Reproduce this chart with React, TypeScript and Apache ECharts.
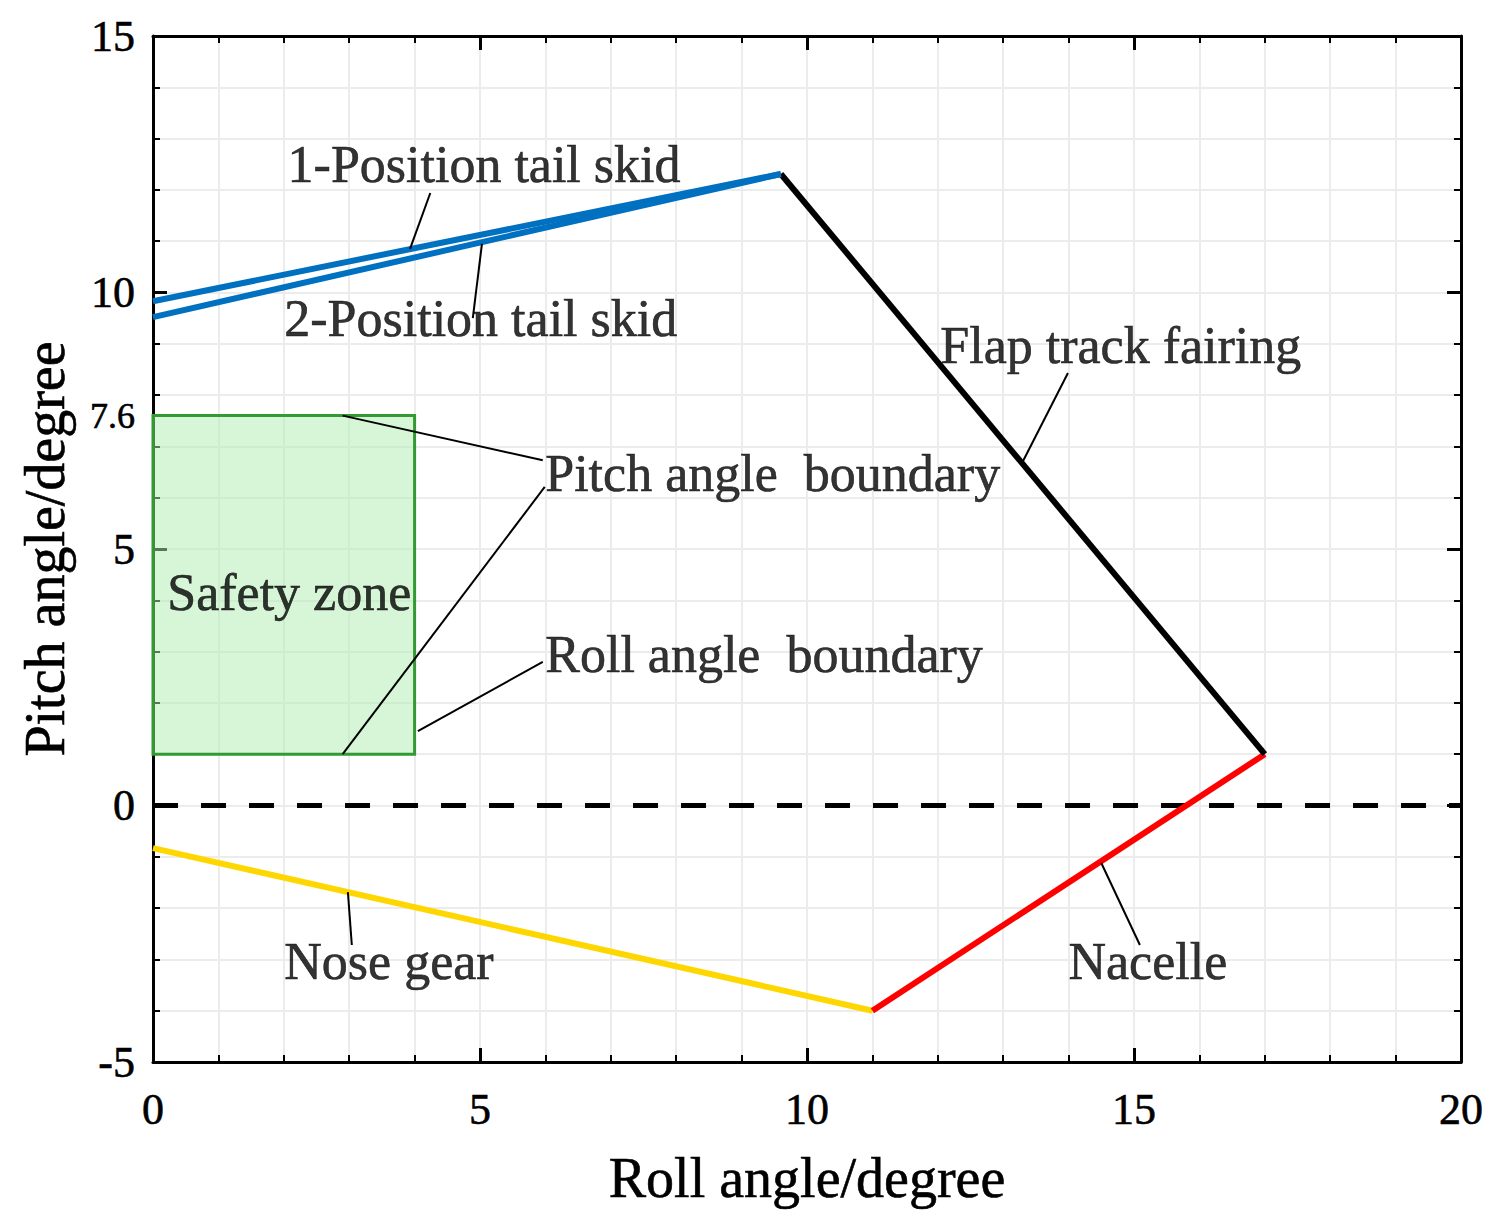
import React, { useEffect, useRef } from "react";
import * as echarts from "echarts";

const FONT = "'Liberation Serif', 'Times New Roman', serif";

const xRange = [0, 20];
const yRange = [-5, 15];
const yLabelValues = [-5, 0, 5, 7.6, 10, 15];
const xLabelValues = [0, 5, 10, 15, 20];

const tailSkid1 = [[0, 9.83], [9.6, 12.31]];
const tailSkid2 = [[0, 9.52], [9.6, 12.31]];
const flapTrack = [[9.6, 12.31], [17, 1.0]];
const nacelle = [[11, -4], [17, 1.0]];
const noseGear = [[0, -0.83], [11, -4]];
const zeroLine = [[0, 0], [20, 0]];

const safetyX = [0, 4];
const safetyY = [1, 7.6];

const leaders = [
  [[4.24, 11.94], [3.93, 10.85]],
  [[4.89, 9.5], [5.03, 10.95]],
  [[13.99, 8.43], [13.29, 6.68]],
  [[5.96, 6.73], [2.9, 7.6]],
  [[5.99, 6.21], [2.9, 1.0]],
  [[5.96, 2.8], [4.05, 1.45]],
  [[3.04, -2.72], [2.98, -1.69]],
  [[15.09, -2.72], [14.5, -1.12]],
];

const annotations = [
  { text: "1-Position tail skid", x: 2.05, y: 12.49 },
  { text: "2-Position tail skid", x: 2.0, y: 9.5 },
  { text: "Flap track fairing", x: 12.03, y: 8.96 },
  { text: "Pitch angle  boundary", x: 5.99, y: 6.48 },
  { text: "Safety zone", x: 0.21, y: 4.16 },
  { text: "Roll angle  boundary", x: 5.99, y: 2.95 },
  { text: "Nose gear", x: 2.0, y: -3.05 },
  { text: "Nacelle", x: 13.99, y: -3.05 },
];

const gridColor = "#ececec";

function lineSeries(name: string, data: number[][], color: string, width = 6, type: any = "solid") {
  return {
    name,
    type: "line",
    data,
    symbol: "none",
    lineStyle: { color, width, type },
    z: 5,
  };
}

export default function App() {
  const ref = useRef<HTMLDivElement>(null);
  useEffect(() => {
    if (!ref.current) return;
    const chart = echarts.init(ref.current, null, { renderer: "svg" });
    const commonAxis = {
      axisLine: { show: true, onZero: false, lineStyle: { color: "#000", width: 3 } },
      axisTick: { show: true, inside: true, length: 14, lineStyle: { color: "#000", width: 3 } },
      minorTick: { show: true, splitNumber: 5, length: 7, lineStyle: { color: "#000", width: 2 } },
    };
    const textBold = { textBorderColor: "#000", textBorderWidth: 0.6 };
    chart.setOption({
      animation: false,
      backgroundColor: "#fff",
      textStyle: { fontFamily: FONT },
      grid: { left: 145, top: 28, right: 29, bottom: 155, containLabel: false },
      xAxis: [
        {
          type: "value",
          min: xRange[0],
          max: xRange[1],
          interval: 5,
          position: "bottom",
          ...commonAxis,
          axisLabel: {
            customValues: xLabelValues,
            color: "#000",
            fontFamily: FONT,
            fontSize: 44,
            margin: 25,
            ...textBold,
          },
          splitLine: { show: true, lineStyle: { color: gridColor, width: 2 } },
          minorSplitLine: { show: true, lineStyle: { color: gridColor, width: 2 } },
          name: "Roll angle/degree",
          nameLocation: "middle",
          nameGap: 88,
          nameTextStyle: { color: "#000", fontFamily: FONT, fontSize: 56, ...textBold },
        },
        {
          type: "value",
          min: xRange[0],
          max: xRange[1],
          interval: 5,
          position: "top",
          ...commonAxis,
          axisLabel: { show: false },
          splitLine: { show: false },
        },
      ],
      yAxis: [
        {
          type: "value",
          min: yRange[0],
          max: yRange[1],
          interval: 5,
          position: "left",
          ...commonAxis,
          axisLabel: {
            customValues: yLabelValues,
            color: "#000",
            fontFamily: FONT,
            fontSize: 44,
            margin: 18,
            ...textBold,
            formatter: (v: number) => (v === 7.6 ? "{s|7.6}" : String(v)),
            rich: { s: { fontSize: 36, fontFamily: FONT, color: "#000", ...textBold } },
          },
          splitLine: { show: true, lineStyle: { color: gridColor, width: 2 } },
          minorSplitLine: { show: true, lineStyle: { color: gridColor, width: 2 } },
          name: "Pitch angle/degree",
          nameLocation: "middle",
          nameGap: 80,
          nameTextStyle: { color: "#000", fontFamily: FONT, fontSize: 56, ...textBold },
        },
        {
          type: "value",
          min: yRange[0],
          max: yRange[1],
          interval: 5,
          position: "right",
          ...commonAxis,
          axisLabel: { show: false },
          splitLine: { show: false },
        },
      ],
      series: [
        {
          type: "line",
          data: [],
          markArea: {
            silent: true,
            itemStyle: { color: "rgba(175,235,175,0.5)", borderColor: "#339933", borderWidth: 3 },
            data: [[{ xAxis: safetyX[0], yAxis: safetyY[0] }, { xAxis: safetyX[1], yAxis: safetyY[1] }]],
          },
        },
        lineSeries("zero", zeroLine, "#000", 5, [25, 23]),
        lineSeries("Nose gear", noseGear, "#FFD700"),
        lineSeries("Nacelle", nacelle, "#FF0000"),
        lineSeries("Flap track fairing", flapTrack, "#000"),
        lineSeries("1-Position tail skid", tailSkid1, "#0070C0"),
        lineSeries("2-Position tail skid", tailSkid2, "#0070C0"),
        {
          type: "lines",
          coordinateSystem: "cartesian2d",
          polyline: false,
          z: 6,
          lineStyle: { color: "#000", width: 2, opacity: 1, curveness: 0 },
          data: leaders.map((c) => ({ coords: c })),
        },
        {
          type: "scatter",
          symbolSize: 1,
          itemStyle: { color: "rgba(0,0,0,0)" },
          z: 7,
          data: annotations.map((a) => ({ value: [a.x, a.y], name: a.text })),
          label: {
            show: true,
            position: "right",
            distance: 0,
            formatter: (p: any) => p.name,
            color: "#000",
            fontFamily: FONT,
            fontSize: 52,
            ...textBold,
          },
        },
      ],
    });
    return () => chart.dispose();
  }, []);
  return <div ref={ref} style={{ width: 1482, height: 1209 }} />;
}
